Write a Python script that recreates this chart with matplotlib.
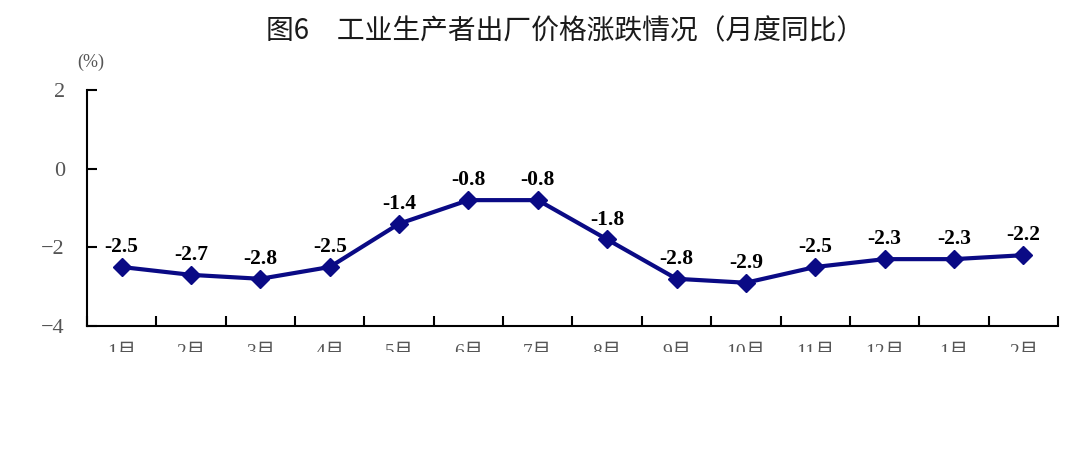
import matplotlib
matplotlib.use("Agg")
import matplotlib.pyplot as plt
from matplotlib.patches import Rectangle
import numpy as np

months = ["1月", "2月", "3月", "4月", "5月", "6月", "7月", "8月", "9月", "10月", "11月", "12月", "1月", "2月"]
values = [-2.5, -2.7, -2.8, -2.5, -1.4, -0.8, -0.8, -1.8, -2.8, -2.9, -2.5, -2.3, -2.3, -2.2]
yticks = [-4, -2, 0, 2]
title = "图6　工业生产者出厂价格涨跌情况（月度同比）"

serif_cjk = ["Liberation Serif", "Noto Sans CJK SC"]
gray = "#555555"

fig = plt.figure(figsize=(10.8, 4.51), dpi=100)
ax = fig.add_axes([87/1080, 1-326/451, (1058-87)/1080, (326-90)/451])

x = np.arange(len(values))
ax.plot(x, values, color="#0a0a85", lw=3.0, marker="D", markersize=9, zorder=3)
for xi, v in zip(x, values):
    ax.annotate(f"{v:.1f}", (xi, v), xytext=(0, 7), textcoords="offset points",
                ha="center", va="bottom", fontsize=15.5, fontweight="bold",
                family="Liberation Serif", color="black")

ax.set_xlim(-0.5, len(values) - 0.5)
ax.set_ylim(-4, 2)
ax.set_yticks(yticks)
ax.set_yticklabels(["−4", "−2", "0", "2"], family="Liberation Serif", fontsize=16, color=gray)
ax.set_xticks(x)
ax.set_xticklabels(months, family=serif_cjk, fontsize=14, color=gray)
ax.set_xticks(np.arange(-0.5, len(values), 1.0), minor=True)
ax.tick_params(axis="x", which="major", length=0, pad=13)
ax.tick_params(axis="x", which="minor", direction="in", length=7, width=1.5, color="black")
ax.tick_params(axis="y", direction="in", length=7, width=1.5, color="black", pad=16)
for s in ["top", "right"]:
    ax.spines[s].set_visible(False)
for s in ["left", "bottom"]:
    ax.spines[s].set_linewidth(1.5)
    ax.spines[s].set_color("black")

fig.text(565/1080, 1-31/451, title, ha="center", va="center", fontsize=20,
         family=["Noto Sans CJK SC", "DejaVu Sans"], color="#1a1a1a")
fig.text(91/1080, 1-62/451, "(%)", ha="center", va="center", fontsize=13,
         family="Liberation Serif", color=gray)

fig.patches.append(Rectangle((0, 0), 1, (451-352)/451, transform=fig.transFigure,
                             facecolor="white", edgecolor="none", zorder=10))

fig.savefig("out.png", dpi=100, facecolor="white")
